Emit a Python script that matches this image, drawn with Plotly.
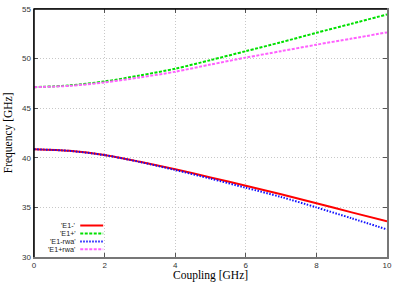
import plotly.graph_objects as go

coupling = [0, 1, 2, 3, 4, 5, 6, 7, 8, 9, 10]
e1_minus = [40.86, 40.70, 40.28, 39.60, 38.84, 38.02, 37.18, 36.32, 35.42, 34.50, 33.59]
e1_plus = [47.12, 47.30, 47.70, 48.30, 48.98, 49.85, 50.75, 51.65, 52.60, 53.52, 54.45]
e1_minus_rwa = [40.86, 40.70, 40.27, 39.58, 38.77, 37.90, 36.98, 36.05, 35.00, 33.90, 32.78]
e1_plus_rwa = [47.12, 47.25, 47.60, 48.10, 48.68, 49.40, 50.10, 50.75, 51.40, 52.02, 52.64]

series = [
    ("'E1-'", e1_minus, "#ff0000", "solid"),
    ("'E1+'", e1_plus, "#00e000", "3px,1.5px"),
    ("'E1-rwa'", e1_minus_rwa, "#1010ff", "1.5px,1.5px"),
    ("'E1+rwa'", e1_plus_rwa, "#ff60ff", "3px,1.5px"),
]

fig = go.Figure()
for name, ys, color, dash in series:
    fig.add_trace(go.Scatter(x=coupling, y=ys, mode="lines", name=name,
                             line=dict(color=color, width=2, dash=dash, shape="spline", smoothing=0.8),
                             showlegend=False, hoverinfo="skip"))

# gnuplot-style key (text right-aligned, sample line to the right)
key_y = [0.127, 0.095, 0.063, 0.031]
shapes = []
annotations = []
for (name, ys, color, dash), ky in zip(series, key_y):
    shapes.append(dict(type="line", xref="paper", yref="paper", x0=0.131, x1=0.196, y0=ky, y1=ky,
                       line=dict(color=color, width=2, dash=dash)))
    annotations.append(dict(text=name, xref="paper", yref="paper", x=0.1225, y=ky, xanchor="right",
                            yanchor="middle", showarrow=False, borderpad=0,
                            font=dict(family="Liberation Sans", size=7.2, color="#222")))

# frame: top & left black
shapes.append(dict(type="line", xref="paper", yref="paper", x0=0, x1=1, y0=1, y1=1, line=dict(color="black", width=1.5)))
shapes.append(dict(type="line", xref="paper", yref="paper", x0=0, x1=0, y0=0, y1=1, line=dict(color="black", width=1.5)))

annotations.append(dict(text="Coupling [GHz]", xref="paper", yref="paper", x=0.5, y=-0.076,
                        xanchor="center", yanchor="middle", showarrow=False, borderpad=0,
                        font=dict(family="Liberation Serif", size=11.5, color="black")))
annotations.append(dict(text="Frequency [GHz]", xref="paper", yref="paper", x=-0.073, y=0.5,
                        xanchor="center", yanchor="middle", showarrow=False, textangle=-90, borderpad=0,
                        font=dict(family="Liberation Serif", size=11.5, color="black")))

axis_common = dict(showline=True, linecolor="#777", linewidth=1.5, mirror="ticks",
                   ticks="inside", ticklen=4, tickcolor="#555", tickwidth=1,
                   showgrid=True, gridcolor="#c8c8c8", griddash="1px,2px", gridwidth=1,
                   zeroline=False, automargin=False,
                   tickfont=dict(family="Liberation Sans", size=8, color="#333"))

fig.update_layout(
    width=402, height=282,
    margin=dict(l=34, r=15, t=9, b=25, autoexpand=False),
    plot_bgcolor="white", paper_bgcolor="white",
    xaxis=dict(range=[0, 10], tickvals=[0, 2, 4, 6, 8, 10], **axis_common),
    yaxis=dict(range=[30, 55], tickvals=[30, 35, 40, 45, 50, 55], **axis_common),
    shapes=shapes, annotations=annotations,
)

fig.write_html("out.html", config={"displayModeBar": False, "staticPlot": True},
               post_script="document.body.style.margin='0';document.body.style.overflow='hidden';")
